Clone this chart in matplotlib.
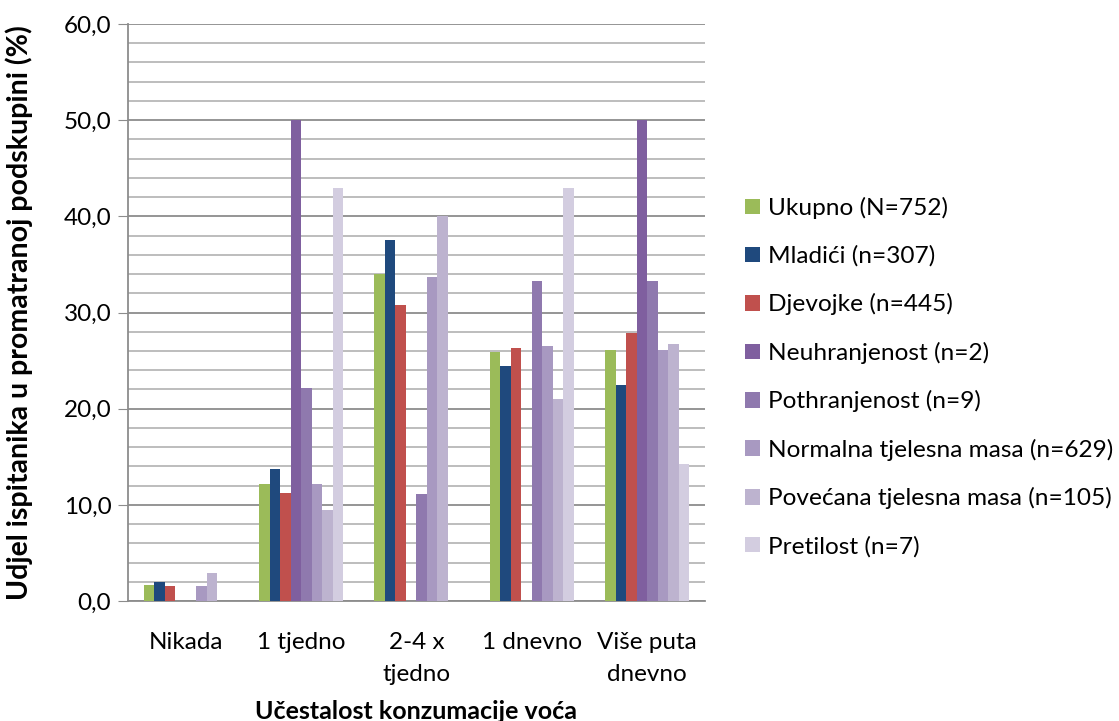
import numpy as np
import matplotlib.pyplot as plt
from matplotlib.ticker import MultipleLocator, FuncFormatter

categories = ["Nikada", "1 tjedno", "2-4 x\ntjedno", "1 dnevno", "Više puta\ndnevno"]
series_names = ["Ukupno (N=752)", "Mladići (n=307)", "Djevojke (n=445)",
                "Neuhranjenost (n=2)", "Pothranjenost (n=9)",
                "Normalna tjelesna masa (n=629)", "Povećana tjelesna masa (n=105)",
                "Pretilost (n=7)"]
ukupno = [1.7, 12.2, 34.0, 25.9, 26.1]
mladici = [2.0, 13.7, 37.5, 24.4, 22.5]
djevojke = [1.6, 11.2, 30.8, 26.3, 27.9]
neuhranjenost = [0.0, 50.0, 0.0, 0.0, 50.0]
pothranjenost = [0.0, 22.2, 11.1, 33.3, 33.3]
normalna = [1.6, 12.2, 33.7, 26.5, 26.1]
povecana = [2.9, 9.5, 40.0, 21.0, 26.7]
pretilost = [0.0, 42.9, 0.0, 42.9, 14.3]
series = [ukupno, mladici, djevojke, neuhranjenost, pothranjenost,
          normalna, povecana, pretilost]
colors = ["#9BBB59", "#1F497D", "#C0504D", "#7F5F9F", "#8F79AE",
          "#A899C1", "#BDB3CF", "#D3CDE0"]

plt.rcParams['font.family'] = ['Lato', 'DejaVu Sans']

fig = plt.figure(figsize=(11.19, 7.21), dpi=100)
ax = fig.add_axes([0.1144, 0.1664, 0.5156, 0.8003])

x = np.arange(len(categories))
w = 0.091
for i, (vals, name, c) in enumerate(zip(series, series_names, colors)):
    ax.bar(x + (i - 3.5) * w, vals, w, color=c, label=name, zorder=3)

ax.set_xlim(-0.5, len(categories) - 0.5)
ax.set_ylim(0, 60)
ax.yaxis.set_major_locator(MultipleLocator(10))
ax.yaxis.set_minor_locator(MultipleLocator(2))
ax.yaxis.set_major_formatter(FuncFormatter(lambda v, p: f"{v:.1f}".replace(".", ",")))
ax.grid(axis='y', which='major', color='#8c8c8c', lw=1.3, zorder=0)
ax.grid(axis='y', which='minor', color='#b8b8b8', lw=1.3, zorder=0)
ax.set_axisbelow(True)

ax.set_xticks(x)
ax.set_xticklabels(categories, fontsize=17.5, linespacing=1.65)
ax.tick_params(axis='x', length=0, pad=22)
ax.tick_params(axis='y', which='major', labelsize=17.5, length=7, color='#8c8c8c', pad=5)
ax.tick_params(axis='y', which='minor', length=0)

for s in ['top', 'right']:
    ax.spines[s].set_visible(False)
for s in ['left', 'bottom']:
    ax.spines[s].set_color('#8c8c8c')
    ax.spines[s].set_linewidth(1.3)

ax.set_ylabel("Udjel ispitanika u promatranoj podskupini (%)", fontsize=20.5,
              fontweight='bold', labelpad=22)
ax.set_xlabel("Učestalost konzumacije voća", fontsize=18, fontweight='bold', labelpad=11)

fig.legend(loc='center left', bbox_to_anchor=(0.657, 0.477), frameon=False,
           fontsize=17.6, handlelength=0.6, handleheight=0.6, handletextpad=0.35,
           labelspacing=1.08, borderaxespad=0)

fig.savefig("out.png", dpi=100)
